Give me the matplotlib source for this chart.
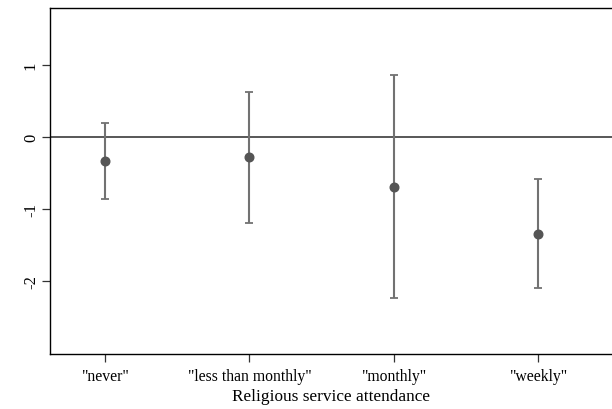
import matplotlib
matplotlib.use("Agg")
import matplotlib.pyplot as plt

categories = ['"never"', '"less than monthly"', '"monthly"', '"weekly"']
estimates = [-0.33, -0.28, -0.69, -1.34]
upper = [0.19, 0.625, 0.86, -0.58]
lower = [-0.86, -1.19, -2.24, -2.10]
yticks = [1, 0, -1, -2]

plt.rcParams['font.family'] = ['Liberation Serif', 'DejaVu Serif']

fig = plt.figure(figsize=(6.12, 4.10), dpi=100)
ax = fig.add_axes([50 / 612, 1 - 355 / 410, 1 - 50 / 612, (355 - 9) / 410])

x = list(range(1, len(categories) + 1))
yerr = [[e - l for e, l in zip(estimates, lower)],
        [u - e for e, u in zip(estimates, upper)]]

ax.axhline(0, color='#4a4a4a', lw=1.3, zorder=1)
ax.errorbar(x, estimates, yerr=yerr, fmt='none', ecolor='#727272',
            elinewidth=1.5, capsize=3.0, capthick=1.3, zorder=2)
ax.plot(x, estimates, 'o', color='#555555', ms=6.2, zorder=3)

ax.set_xlim(0.62, 4.51)
ax.set_ylim(-3.01, 1.79)
ax.set_xticks(x)
ax.set_xticklabels(categories, fontsize=11.3)
ax.set_yticks(yticks)
ax.set_yticklabels([str(t) for t in yticks], fontsize=12, rotation=90, va='center')
ax.tick_params(direction='out', length=6, width=0.9, color='#333333')
ax.tick_params(axis='x', pad=4)
ax.tick_params(axis='y', pad=2)
ax.set_xlabel('Religious service attendance', fontsize=12.4, labelpad=3)

for side in ['left', 'bottom', 'top']:
    ax.spines[side].set_linewidth(1.0)
    ax.spines[side].set_color('black')
ax.spines['right'].set_visible(False)

fig.savefig('out.png', dpi=100)
